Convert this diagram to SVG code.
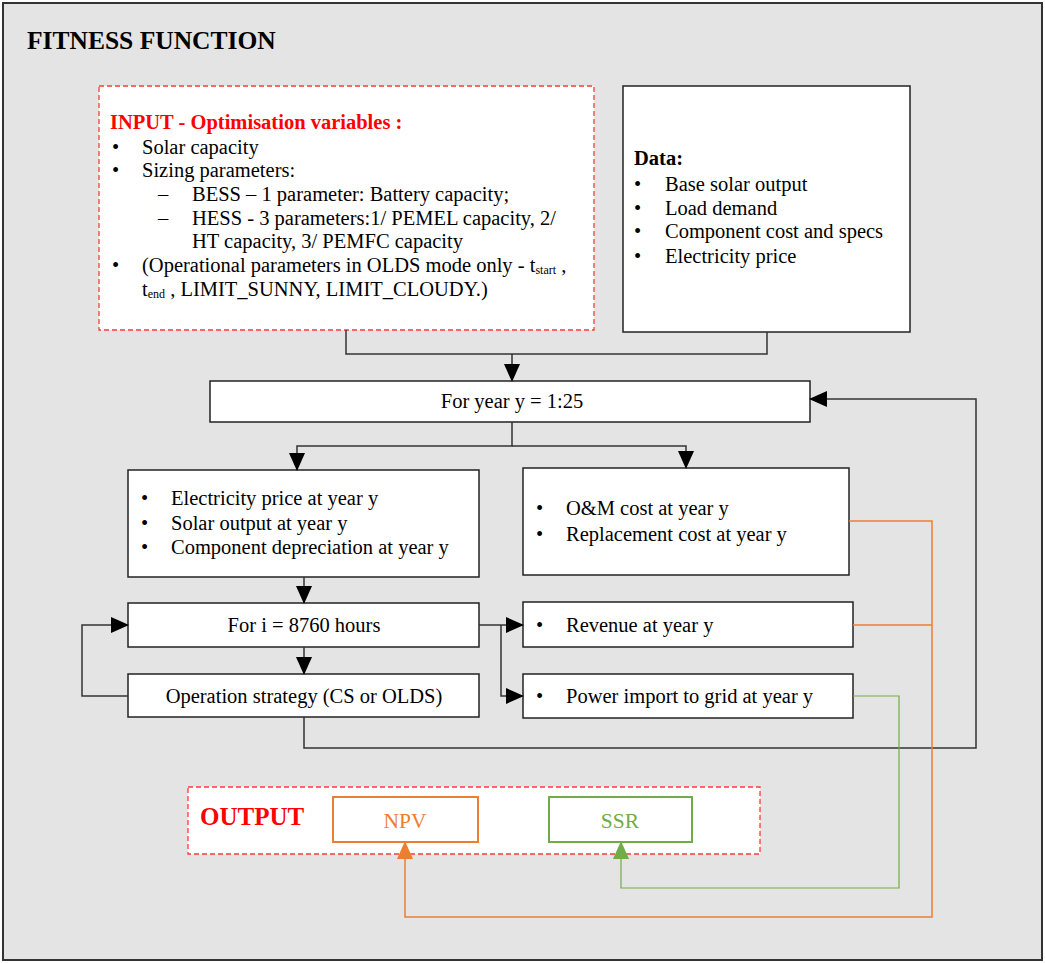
<svg xmlns="http://www.w3.org/2000/svg" width="1045" height="963" viewBox="0 0 1045 963">
<style>
text{font-family:"Liberation Serif","Times New Roman",serif;font-size:20.5px;fill:#000}
.box{fill:#fff;stroke:#222;stroke-width:1.5}
.c{text-anchor:middle}
.b{font-weight:bold}
.sub{font-size:12px}
.ln{fill:none;stroke:#333;stroke-width:1.5}
.or{fill:none;stroke:#ed7d31;stroke-width:1.5}
.gr{fill:none;stroke:#70ad47;stroke-width:1.2}
</style>
<defs>
<marker id="ak" markerWidth="18" markerHeight="16" refX="17" refY="8" orient="auto" markerUnits="userSpaceOnUse"><path d="M0,0 L18,8 L0,16 Z" fill="#000"/></marker>
<marker id="ao" markerWidth="18" markerHeight="16" refX="17" refY="8" orient="auto" markerUnits="userSpaceOnUse"><path d="M0,0 L18,8 L0,16 Z" fill="#ed7d31"/></marker>
<marker id="ag" markerWidth="18" markerHeight="16" refX="17" refY="8" orient="auto" markerUnits="userSpaceOnUse"><path d="M0,0 L18,8 L0,16 Z" fill="#70ad47"/></marker>
</defs>
<rect x="3" y="3" width="1039" height="957" fill="#e4e4e4" stroke="#333" stroke-width="2"/>
<text x="27" y="49" class="b" style="font-size:25.5px">FITNESS FUNCTION</text>

<g id="input">
<rect x="99" y="86" width="495" height="244" fill="#fff" stroke="#ff3b3b" stroke-width="1.3" stroke-dasharray="5,3"/>
<text x="110" y="129" class="b" style="fill:#ff0000">INPUT - Optimisation variables :</text>
<text x="112" y="154">•</text><text x="142" y="154">Solar capacity</text>
<text x="112" y="177">•</text><text x="142" y="177">Sizing parameters:</text>
<text x="158" y="201">–</text><text x="192" y="201">BESS – 1 parameter: Battery capacity;</text>
<text x="158" y="225">–</text><text x="192" y="225">HESS - 3 parameters:1/ PEMEL capacity, 2/</text>
<text x="192" y="248">HT capacity, 3/ PEMFC capacity</text>
<text x="112" y="272">•</text><text x="142" y="272">(Operational parameters in OLDS mode only - t<tspan class="sub" dy="2">start</tspan><tspan dy="-2"> ,</tspan></text>
<text x="142" y="296">t<tspan class="sub" dy="2">end</tspan><tspan dy="-2"> , LIMIT_SUNNY, LIMIT_CLOUDY.)</tspan></text>
</g>

<g id="data">
<rect x="623" y="86" width="287" height="246" class="box"/>
<text x="634" y="165" class="b">Data:</text>
<text x="634" y="191">•</text><text x="665" y="191">Base solar output</text>
<text x="634" y="215">•</text><text x="665" y="215">Load demand</text>
<text x="634" y="238">•</text><text x="665" y="238">Component cost and specs</text>
<text x="634" y="263">•</text><text x="665" y="263">Electricity price</text>
</g>

<g id="year">
<rect x="210" y="381" width="600" height="41" class="box"/>
<text x="512" y="408" class="c">For year y = 1:25</text>
</g>

<g id="yearvars">
<rect x="128" y="470" width="351" height="107" class="box"/>
<text x="141" y="505">•</text><text x="171" y="505">Electricity price at year y</text>
<text x="141" y="530">•</text><text x="171" y="530">Solar output at year y</text>
<text x="141" y="554">•</text><text x="171" y="554">Component depreciation at year y</text>
</g>

<g id="costs">
<rect x="523" y="468" width="326" height="107" class="box"/>
<text x="536" y="515">•</text><text x="566" y="515">O&amp;M cost at year y</text>
<text x="536" y="541">•</text><text x="566" y="541">Replacement cost at year y</text>
</g>

<g id="hours">
<rect x="128" y="603" width="351" height="44" class="box"/>
<text x="304" y="632" class="c">For i = 8760 hours</text>
</g>

<g id="operation">
<rect x="128" y="674" width="351" height="43" class="box"/>
<text x="304" y="703" class="c">Operation strategy (CS or OLDS)</text>
</g>

<g id="revenue">
<rect x="523" y="602" width="330" height="45" class="box"/>
<text x="536" y="632">•</text><text x="566" y="632">Revenue at year y</text>
</g>

<g id="power">
<rect x="523" y="674" width="330" height="44" class="box"/>
<text x="536" y="703">•</text><text x="566" y="703">Power import to grid at year y</text>
</g>

<g id="output">
<rect x="188" y="787" width="572" height="67" fill="#fff" stroke="#ff3b3b" stroke-width="1.3" stroke-dasharray="5,3"/>
<text x="200" y="825" class="b" style="fill:#ff0000;font-size:25px">OUTPUT</text>
</g>
<g id="npv">
<rect x="333" y="797" width="145" height="45" fill="#fff" stroke="#ed7d31" stroke-width="2"/>
<text x="405" y="828" class="c" style="fill:#ed7d31;font-size:21.5px">NPV</text>
</g>
<g id="ssr">
<rect x="549" y="797" width="143" height="45" fill="#fff" stroke="#70ad47" stroke-width="2"/>
<text x="620" y="828" class="c" style="fill:#70ad47;font-size:21.5px">SSR</text>
</g>

<g id="connectors">
<path class="ln" d="M346,330 V354 H767 V332"/>
<path class="ln" d="M512,354 V381" marker-end="url(#ak)"/>
<path class="ln" d="M512,422 V446 H297 V470" marker-end="url(#ak)"/>
<path class="ln" d="M512,446 H686 V468" marker-end="url(#ak)"/>
<path class="ln" d="M304,577 V603" marker-end="url(#ak)"/>
<path class="ln" d="M304,647 V674" marker-end="url(#ak)"/>
<path class="ln" d="M128,696 H82 V625 H128" marker-end="url(#ak)"/>
<path class="ln" d="M479,625 H523" marker-end="url(#ak)"/>
<path class="ln" d="M501,625 V696 H523" marker-end="url(#ak)"/>
<path class="ln" d="M304,717 V748 H976 V399 H810" marker-end="url(#ak)"/>
<path class="or" d="M849,521 H932 V917 H405 V842" marker-end="url(#ao)"/>
<path class="or" d="M853,625 H932"/>
<path class="gr" d="M853,696 H899 V888 H621 V842" marker-end="url(#ag)"/>
</g>
</svg>
